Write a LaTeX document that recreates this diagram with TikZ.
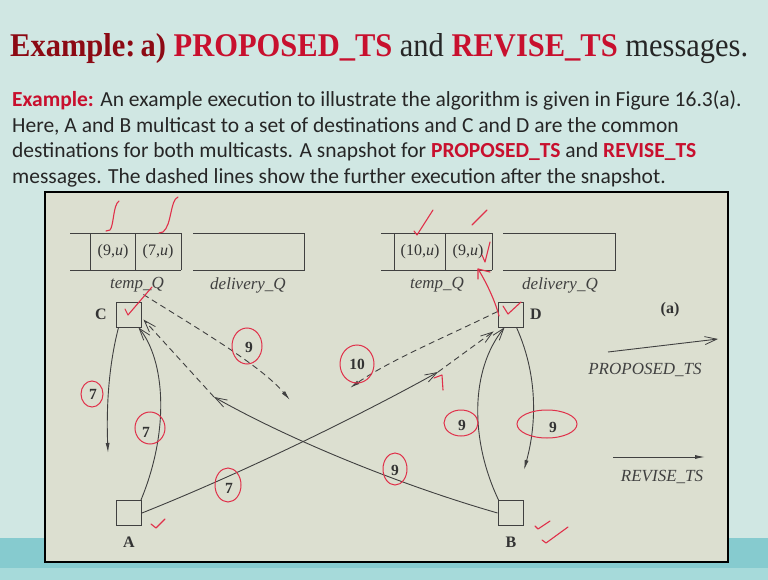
\documentclass[tikz,border=0pt]{standalone}
\usepackage{graphicx}
\usepackage{fontspec}
\setmainfont{Liberation Serif}
\newfontfamily\bodyfont{Carlito}
\usetikzlibrary{arrows.meta}
\definecolor{slidebg}{HTML}{D0E7E3}
\definecolor{bandbg}{HTML}{86CBCF}
\definecolor{bandlow}{HTML}{A6DADA}
\definecolor{figbg}{HTML}{DCDFD0}
\definecolor{titlered}{HTML}{8C0A14}
\definecolor{hotred}{HTML}{C8102E}
\definecolor{inkred}{HTML}{E0304A}
\definecolor{lineink}{HTML}{404040}
\tikzset{
  proptip/.style={-{Straight Barb[length=12pt,width=8pt,line width=0.8pt]}},
  revtip/.style={-{Latex[length=10pt,width=4pt]}},
  msg/.style={draw=lineink, line width=0.9pt},
  dmsg/.style={draw=lineink, line width=0.9pt, dash pattern=on 6pt off 4pt},
  procbox/.style={draw=lineink, line width=0.9pt, minimum size=25pt, inner sep=0pt},
  qtext/.style={font=\fontsize{16}{18}\selectfont, text=black!80, inner sep=0pt},
  qlabel/.style={font=\fontsize{17}{19}\selectfont\itshape, text=black!75, inner sep=0pt},
  plabel/.style={font=\fontsize{16}{18}\selectfont\bfseries, text=black!80, inner sep=0pt},
  numlabel/.style={font=\fontsize{15.5}{17}\selectfont\bfseries, text=black!80, inner sep=0pt},
  ring/.style={draw=inkred, line width=1pt},
  inkmark/.style={draw=inkred, line width=1.1pt, line cap=round, line join=round},
  qline/.style={draw=lineink, line width=0.9pt}
}
\begin{document}
\begin{tikzpicture}[x=1pt,y=-1pt]
\useasboundingbox (0,0) rectangle (768,580);
% slide background
\fill[slidebg] (0,0) rectangle (768,580);
\fill[bandbg] (0,538) rectangle (768,580);
\fill[bandlow] (0,568) rectangle (768,580);
% title
\node[anchor=base west, inner sep=0pt] (title) at (10,57) {\resizebox{738pt}{23pt}{\fontsize{30}{36}\selectfont
  \textcolor{titlered}{\bfseries Example:\,a)} \textcolor{hotred}{\bfseries PROPOSED\_TS} \textcolor{black!85}{and} \textcolor{hotred}{\bfseries REVISE\_TS} \textcolor{black!85}{messages.}}};
% body text
\begin{scope}[every node/.style={anchor=base west, inner sep=0pt, font=\bodyfont\fontsize{21.5}{24}\selectfont, text=black!85}]
\node (l1) at (12,107) {\textcolor{hotred}{\bfseries Example:} An example execution to illustrate the algorithm is given in Figure 16.3(a).};
\node (l2) at (12,133) {Here, A and B multicast to a set of destinations and C and D are the common};
\node (l3) at (12,158) {destinations for both multicasts. A snapshot for \textcolor{hotred}{\bfseries PROPOSED\_TS} and \textcolor{hotred}{\bfseries REVISE\_TS}};
\node (l4) at (12,184) {messages. The dashed lines show the further execution after the snapshot.};
\end{scope}
% figure panel
\draw[fill=figbg, draw=black, line width=2.5pt] (45,192) rectangle (728,562);
% left queues
\draw[qline] (70,233) -- (181,233) (70,270) -- (181,270) (90,233) -- (90,270) (135,233) -- (135,270) (181,233) -- (181,270);
\draw[qline] (193,233) -- (304,233) -- (304,270) -- (193,270);
\node[qtext] (c1) at (113,252) {(9,\textit{u})};
\node[qtext] (c2) at (158,252) {(7,\textit{u})};
\node[qlabel] (tqC) at (137,285) {temp\_Q};
\node[qlabel] (dqC) at (248,285) {delivery\_Q};
% right queues
\draw[qline] (381,233) -- (492,233) (381,270) -- (492,270) (394,233) -- (394,270) (445,233) -- (445,270) (492,233) -- (492,270);
\draw[qline] (503,233) -- (615,233) -- (615,270) -- (503,270);
\node[qtext] (d1) at (420,252) {(10,\textit{u})};
\node[qtext] (d2) at (468,252) {(9,\textit{u})};
\node[qlabel] (tqD) at (437,285) {temp\_Q};
\node[qlabel] (dqD) at (560,285) {delivery\_Q};
% processes
\node[procbox] (C) at (128.5,314.5) {};
\node[procbox] (D) at (510.5,314.5) {};
\node[procbox] (A) at (129,513) {};
\node[procbox] (B) at (510.5,513) {};
\node[plabel] (Cl) at (101,314) {C};
\node[plabel] (Dl) at (536,314) {D};
\node[plabel] (Al) at (129,542) {A};
\node[plabel] (Bl) at (511,542) {B};
\node[plabel] (fa) at (670,310) {(a)};
% snapshot points
\coordinate (pAD) at (438,372);
\coordinate (pBC) at (214,397);
\coordinate (rC) at (108,453);
\coordinate (rD) at (524,470);
\coordinate (rCd) at (290,400);
\coordinate (rDd) at (350,388);
% messages
\draw[msg, proptip] ([xshift=-1pt]A.north east) .. controls (170,430) and (165,360) .. ([xshift=-3pt]C.south east);
\draw[msg, revtip] ([xshift=3pt]C.south west) .. controls (110,360) and (106,400) .. (rC);
\draw[msg, proptip] (A.east) .. controls (250,470) and (370,410) .. (pAD);
\draw[dmsg, proptip] (pAD) -- ([xshift=-4pt,yshift=-4pt]D.south west);
\draw[msg, proptip] (B.west) .. controls (400,485) and (290,440) .. (pBC);
\draw[dmsg, proptip] (pBC) -- ([xshift=2pt,yshift=-5pt]C.east);
\draw[msg, proptip] ([xshift=1pt]B.north west) .. controls (470,440) and (470,370) .. ([xshift=-6pt]D.south);
\draw[msg, revtip] ([xshift=6pt]D.south) .. controls (540,380) and (535,430) .. (rD);
\draw[dmsg, revtip] ([xshift=2pt,yshift=7pt]C.north east) .. controls (200,330) and (260,365) .. (rCd);
\draw[dmsg, revtip] ([yshift=3pt]D.west) .. controls (450,335) and (390,360) .. (rDd);
% numbers
\node[numlabel] (n1) at (93,394) {7};
\node[numlabel] (n2) at (146,432) {7};
\node[numlabel] (n3) at (229,488) {7};
\node[numlabel] (n4) at (249,347) {9};
\node[numlabel] (n5) at (357,364) {10};
\node[numlabel] (n6) at (395,470) {9};
\node[numlabel] (n7) at (462,425) {9};
\node[numlabel] (n8) at (553,427) {9};
% legend
\coordinate (pl1) at (608,352);
\coordinate (pl2) at (718,339);
\coordinate (rl1) at (613,457);
\coordinate (rl2) at (705,457);
\draw[msg, proptip] (pl1) -- (pl2);
\draw[msg, revtip] (rl1) -- (rl2);
\node[qlabel] (lp) at (645,370) {PROPOSED\_TS};
\node[qlabel] (lr) at (662,477) {REVISE\_TS};
% red handwritten annotations
\draw[ring] (92,394) ellipse [x radius=11, y radius=13];
\draw[ring] (150,428) ellipse [x radius=15, y radius=16];
\draw[ring] (228,485) ellipse [x radius=13, y radius=17];
\draw[ring] (247,346) ellipse [x radius=15, y radius=18];
\draw[ring] (357,364) ellipse [x radius=17, y radius=19];
\draw[ring] (395,469) ellipse [x radius=12, y radius=16];
\draw[ring] (461,423) ellipse [x radius=17, y radius=13];
\draw[ring] (547,424) ellipse [x radius=30, y radius=14];
\draw[inkmark] (119,201) .. controls (113,205) and (114,225) .. (110,230) -- (106,231);
\draw[inkmark] (178,197) .. controls (170,200) and (172,225) .. (163,232) -- (159,233);
\draw[inkmark] (125,309) -- (128,315) -- (152,287);
\draw[inkmark] (151,524) -- (156,528) -- (165,519);
\draw[inkmark] (535,526) -- (538,529) -- (550,521);
\draw[inkmark] (542,540) -- (546,543) -- (568,527);
\draw[inkmark] (414,231) -- (417,235) -- (433,210);
\draw[inkmark] (472,225) -- (487,210);
\draw[inkmark] (482,255) -- (485,262) -- (490,242);
\draw[inkmark] (499,316) .. controls (495,300) and (485,280) .. (478,269);
\draw[inkmark] (478,279) -- (478,269) -- (490,272);
\draw[inkmark] (503,306) -- (508,314) -- (521,302);
\draw[inkmark] (434,378) -- (442,375) -- (443,390);
\end{tikzpicture}
\end{document}
